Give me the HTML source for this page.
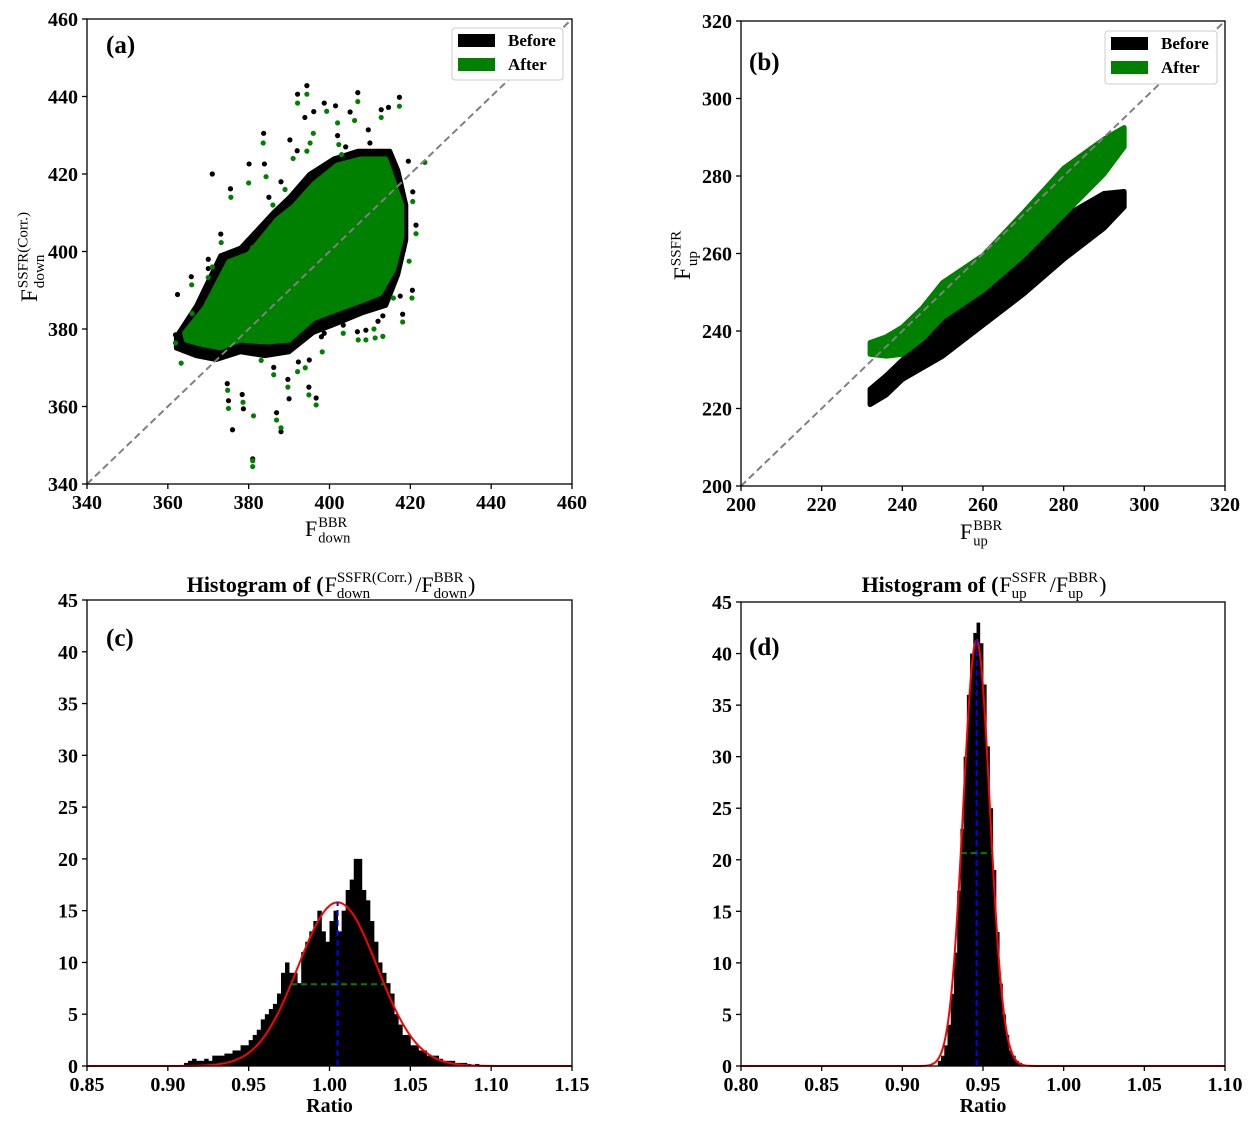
<!DOCTYPE html>
<html><head><meta charset="utf-8">
<style>
html,body{margin:0;padding:0;background:#fff;}
svg{display:block;font-family:"Liberation Serif",serif;}
</style></head>
<body>
<svg id="fig" width="1257" height="1125" viewBox="0 0 1257 1125" xmlns="http://www.w3.org/2000/svg"></svg>
<script>
// ---------- data ----------
const aTicks = [340,360,380,400,420,440,460];
const bTicks = [200,220,240,260,280,300,320];
const cXTicks = [0.85,0.90,0.95,1.00,1.05,1.10,1.15];
const dXTicks = [0.80,0.85,0.90,0.95,1.00,1.05,1.10];
const histYTicks = [0,5,10,15,20,25,30,35,40,45];

// Panel a: dense core outlines (data units) and individual points
const aBlackCore = [[362,378],[367,386],[373,399],[378,401],[386,410],[390,414],[395,420],[401,424],[407,426],[415,426],[417,421],[419,412],[419,403],[417,394],[414,386],[408,384],[401,381],[396,379],[390,374],[384,373],[378,374],[372,372],[367,373],[362,375]];
const aGreenCore = [[364,379],[369,385.5],[375,397.5],[380,399.5],[387,408.4],[391,411.7],[396,417.5],[401.8,422.4],[407.6,424],[414,424],[415.5,419.5],[418,412],[418,403.6],[416,395.4],[412.5,389],[407.6,387],[401,384.5],[396,382.5],[390,377],[384.5,376.5],[378,377],[373,375],[368,376],[364.5,377]];
const aBlackX = [394.4,392.1,407.0,417.3,414.6,412.8,398.7,401.5,405.1,396.1,393.9,409.6,383.7,402.0,390.2,375.5,380.1,383.9,419.5,420.6,421.4,418.3,420.5,418.1,409.0,406.9,403.4,398.7,374.7,378.4,378.7,386.9,396.7,394.9,389.7,386.2,361.9,362.4,365.8,373.1,363.8,370.0,392.3,382.4,417.5,413.2,381,376,388,390,375,371,370,372,385,388,404,410,412,395,380,392,398,368];
const aBlackY = [442.8,440.6,441.0,439.8,437.2,436.6,438.3,437.6,436.0,436.1,434.6,431.4,430.5,429.9,428.8,416.2,422.6,422.6,423.3,415.4,406.8,400.3,390.0,383.8,379.7,379.3,381.0,378.9,365.9,363.1,359.4,358.4,362.2,365.0,367.0,370.1,378.5,388.9,393.5,404.5,376.0,395.6,371.5,375.6,388.5,383.4,346.5,354,353.5,362,361.5,420,398,392,414,418,427,428,382,372,403,426,378,382];
const aGreenX = [394.4,392.1,407.0,417.3,412.8,399.3,402.0,406.2,394.4,395.2,396.0,383.6,402.3,375.6,380.0,384.3,423.6,420.6,421.4,419.7,420.4,418.1,407.1,403.4,398.2,374.8,378.6,381.2,386.9,396.7,394.9,389.7,386.2,361.9,363.3,365.9,373.2,370.0,392.1,383.1,415.8,413.2,411.3,409.0,381,381,388,375,371,374,386,389,403,411,394,381,391,369,366];
const aGreenY = [440.6,438.3,438.7,437.5,434.6,436.2,433.2,433.8,425.9,428.0,430.5,428.0,427.6,414.0,417.7,419.3,423.0,412.9,404.6,397.5,388.0,381.8,377.2,378.9,374.1,364.2,361.1,357.6,356.5,360.4,363.0,365.0,368.2,376.4,371.2,391.4,402.3,393.3,369.0,371.9,388.0,378.1,377.7,377.2,344.5,346,354.5,359.5,396,390,412,416,425,380,370,401,424,380,384];

// Panel b: bands (centre line and half-width in data units)
const bBandX = [232,236,240,245,250,260,270,280,290,295];
const bBlackCenter = [223,226,230,234,238,246.5,255,264,271,274];
const bBlackHalf = [2,2.5,2.5,3.5,4.5,5,5.5,5.5,4.5,2];
const bGreenCenter = [235.5,236,237.5,242,248,255,265,276,285,290];
const bGreenHalf = [1.5,2.5,3.5,4,4.5,4.5,5.5,6,4.5,2.5];

// Panel c histogram
const cBinStart = 0.90, cBinWidth = 0.0025;
const cCounts = [0,0,0,0,0.3,0.5,0.7,0.5, 0.5,0.7,0.5,1,1,1,1.2,1.2, 1.5,1.5,2,2,2.5,3,3.5,4.5, 5,5.5,6,7,9,10,9,9, 8,11,12,13,14,15,13,12, 14,15,13,15,17,18,20,20, 17,16,14,12,10,9,8,7, 5,4,3,3,2,2,1.5,1.5, 1,1,1,0.7,0.5,0.5,0.5,0.3, 0.3,0.3,0.2,0,0.2,0,0,0];
const cFit = {amp:15.8, mean:1.005, sigma:0.0245};
// Panel d histogram
const dBinStart = 0.920, dBinWidth = 0.002;
const dCounts = [0,0.5,1,2,4,7,11,17,23,30,36,40,42,43,41,37,31,25,19,13,8,5,3,1.5,1,0.5,0.3,0,0,0];
const dFit = {amp:41.3, mean:0.946, sigma:0.0083};

// ---------- helpers ----------
const NS = "http://www.w3.org/2000/svg";
const svg = document.getElementById('fig');
function el(tag, attrs, parent){
  const e = document.createElementNS(NS, tag);
  for (const k in attrs) e.setAttribute(k, attrs[k]);
  (parent||svg).appendChild(e);
  return e;
}
function scale(d0,d1,p0,p1){return v=>p0+(v-d0)*(p1-p0)/(d1-d0);}

function axes(name, x0,x1,y0,y1, sx, sy, xt, yt, xfmt, yfmt){
  const g = el('g',{});
  
  
  const fr = el('rect',{x:x0,y:y0,width:x1-x0,height:y1-y0,fill:'none',stroke:'#000','stroke-width':1.3},g);
  
  
  xt.forEach(v=>{
    const x = sx(v);
    el('line',{x1:x,x2:x,y1:y1,y2:y1+5,stroke:'#000','stroke-width':1.3},g);
    const t = el('text',{x:x,y:y1+25,'text-anchor':'middle','font-size':20,'font-weight':'bold'},g);
    t.textContent = xfmt(v);
    
    
  });
  yt.forEach(v=>{
    const y = sy(v);
    el('line',{x1:x0-5,x2:x0,y1:y,y2:y,stroke:'#000','stroke-width':1.3},g);
    const t = el('text',{x:x0-9,y:y+7,'text-anchor':'end','font-size':20,'font-weight':'bold'},g);
    t.textContent = yfmt(v);
    
    
  });
}
function panelLetter(txt,x,y){
  const t = el('text',{x:x,y:y,'font-size':25,'font-weight':'bold'});
  t.textContent = txt;
  
  
}
function fLabel(g,x,y,sup,sub,size){
  const t1 = el('text',{x:x,y:y,'font-size':size},g); t1.textContent='F';
  const t2 = el('text',{x:x+size*0.6,y:y-size*0.42,'font-size':size*0.66},g); t2.textContent=sup;
  const t3 = el('text',{x:x+size*0.6,y:y+size*0.3,'font-size':size*0.66},g); t3.textContent=sub;
}
function legend(x,y,w,h){
  const g = el('g',{});
  
  
  el('rect',{x:x,y:y,width:w,height:h,rx:3,fill:'#fff',stroke:'#ccc','stroke-width':1},g);
  [['Before','#000'],['After','#008000']].forEach((it,i)=>{
    const r = el('rect',{x:x+6,y:y+6+i*24,width:37,height:13,fill:it[1]},g);
    
    
    const t = el('text',{x:x+56,y:y+18+i*24,'font-size':17,'font-weight':'bold'},g);
    t.textContent = it[0];
    
    
  });
}
function dots(xs,ys,sx,sy,color,name){
  const g = el('g',{fill:color});
  
  
  xs.forEach((v,i)=>{ el('circle',{cx:sx(v),cy:sy(ys[i]),r:2.6},g); });
}
function poly(pts,sx,sy,color,name){
  const p = el('polygon',{points:pts.map(q=>sx(q[0])+','+sy(q[1])).join(' '),fill:color,stroke:color,'stroke-width':4,'stroke-linejoin':'round'});
  
  
}
function band(xs,cs,hs,sx,sy,color,name){
  const top = xs.map((v,i)=>sx(v)+','+sy(cs[i]+hs[i]));
  const bot = xs.map((v,i)=>sx(v)+','+sy(cs[i]-hs[i])).reverse();
  const p = el('polygon',{points:top.concat(bot).join(' '),fill:color,stroke:color,'stroke-width':5,'stroke-linejoin':'round'});
  
  
}

// ---------- Panel a ----------
(function(){
  const x0=87,x1=572,y0=19,y1=484;
  const sx=scale(340,460,x0,x1), sy=scale(340,460,y1,y0);
  poly(aBlackCore,sx,sy,'#000','a-before-core');
  dots(aBlackX,aBlackY,sx,sy,'#000','a-before-points');
  poly(aGreenCore,sx,sy,'#008000','a-after-core');
  dots(aGreenX,aGreenY,sx,sy,'#008000','a-after-points');
  const l = el('line',{x1:sx(340),y1:sy(340),x2:sx(460),y2:sy(460),stroke:'#808080','stroke-width':2,'stroke-dasharray':'7,4'});
   
  axes('a',x0,x1,y0,y1,sx,sy,aTicks,aTicks,String,String);
  legend(452,28,111,52);
  panelLetter('(a)',106,53);
  const gx = el('g',{});  
  fLabel(gx,305,536,'BBR','down',22);
  const gy = el('g',{transform:'translate(37,302) rotate(-90)'});  
  fLabel(gy,0,0,'SSFR(Corr.)','down',23);
})();

// ---------- Panel b ----------
(function(){
  const x0=741,x1=1225,y0=21,y1=486;
  const sx=scale(200,320,x0,x1), sy=scale(200,320,y1,y0);
  band(bBandX,bBlackCenter,bBlackHalf,sx,sy,'#000','b-before-band');
  band(bBandX,bGreenCenter,bGreenHalf,sx,sy,'#008000','b-after-band');
  const l = el('line',{x1:sx(200),y1:sy(200),x2:sx(320),y2:sy(320),stroke:'#808080','stroke-width':2,'stroke-dasharray':'7,4'});
   
  axes('b',x0,x1,y0,y1,sx,sy,bTicks,bTicks,String,String);
  legend(1105,31,112,53);
  panelLetter('(b)',749,70);
  const gx = el('g',{});  
  fLabel(gx,960,539,'BBR','up',22);
  const gy = el('g',{transform:'translate(690,280) rotate(-90)'});  
  fLabel(gy,0,0,'SSFR','up',23);
})();

// ---------- histograms ----------
function hist(name,x0,x1,y0,y1,xd,counts,binStart,binW,fit,xt,letter,lx,ly){
  const sx=scale(xd[0],xd[1],x0,x1), sy=scale(0,45,y1,y0);
  const g = el('g',{fill:'#000'});
  
  
  counts.forEach((c,i)=>{
    if(c<=0) return;
    const a=sx(binStart+i*binW), b=sx(binStart+(i+1)*binW);
    const r = el('rect',{x:a,y:sy(c),width:b-a+0.4,height:sy(0)-sy(c)},g);
    
    
  });
  let d='';
  for(let k=0;k<=400;k++){
    const v=xd[0]+(xd[1]-xd[0])*k/400;
    const yv=fit.amp*Math.exp(-0.5*Math.pow((v-fit.mean)/fit.sigma,2));
    d+=(k?'L':'M')+sx(v).toFixed(2)+','+sy(yv).toFixed(2);
  }
  const p=el('path',{d:d,fill:'none',stroke:'#ff0000','stroke-width':2});
   
  const m=el('line',{x1:sx(fit.mean),x2:sx(fit.mean),y1:sy(0),y2:sy(fit.amp),stroke:'#0000ff','stroke-width':2,'stroke-dasharray':'6,4'});
   
  const hw=fit.sigma*Math.sqrt(2*Math.LN2);
  const f=el('line',{x1:sx(fit.mean-hw),x2:sx(fit.mean+hw),y1:sy(fit.amp/2),y2:sy(fit.amp/2),stroke:'#008000','stroke-width':2,'stroke-dasharray':'6,4'});
   
  axes(name,x0,x1,y0,y1,sx,sy,xt,histYTicks,v=>v.toFixed(2),String);
  panelLetter(letter,lx,ly);
  const t=el('text',{x:(x0+x1)/2,y:y1+46,'text-anchor':'middle','font-size':20,'font-weight':'bold'});
  t.textContent='Ratio';
   
}
hist('c',87,572,600,1066,[0.85,1.15],cCounts,cBinStart,cBinWidth,cFit,cXTicks,'(c)',106,646);
hist('d',741,1225,602,1066,[0.80,1.10],dCounts,dBinStart,dBinWidth,dFit,dXTicks,'(d)',749,655);

// titles: flow pieces sequentially using measured widths
function title(name,cx,y,sup1,sub1,sup2,sub2){
  const g=el('g',{});  
  function t(s,size,bold,dy){const e=el('text',{x:0,y:y+(dy||0),'font-size':size,'font-weight':bold?'bold':'normal'},g);e.textContent=s;return e;}
  const pieces=[];
  const a=t('Histogram of (',22,true); pieces.push([[a],a.getComputedTextLength()+1]);
  const f1=t('F',22,false); pieces.push([[f1],f1.getComputedTextLength()]);
  const s1=t(sup1,15,false,-10), b1=t(sub1,15,false,6); pieces.push([[s1,b1],Math.max(s1.getComputedTextLength(),b1.getComputedTextLength())+3]);
  const f2=t('/F',22,false); pieces.push([[f2],f2.getComputedTextLength()]);
  const s2=t(sup2,15,false,-10), b2=t(sub2,15,false,6); pieces.push([[s2,b2],Math.max(s2.getComputedTextLength(),b2.getComputedTextLength())+1]);
  const p=t(')',22,false); pieces.push([[p],p.getComputedTextLength()]);
  const total=pieces.reduce((s,q)=>s+q[1],0);
  let x=cx-total/2;
  pieces.forEach(q=>{q[0].forEach(e=>e.setAttribute('x',x)); x+=q[1];});
}
title('c-title',331,592,'SSFR(Corr.)','down','BBR','down');
title('d-title',984,592,'SSFR','up','BBR','up');
</script>
</body></html>
